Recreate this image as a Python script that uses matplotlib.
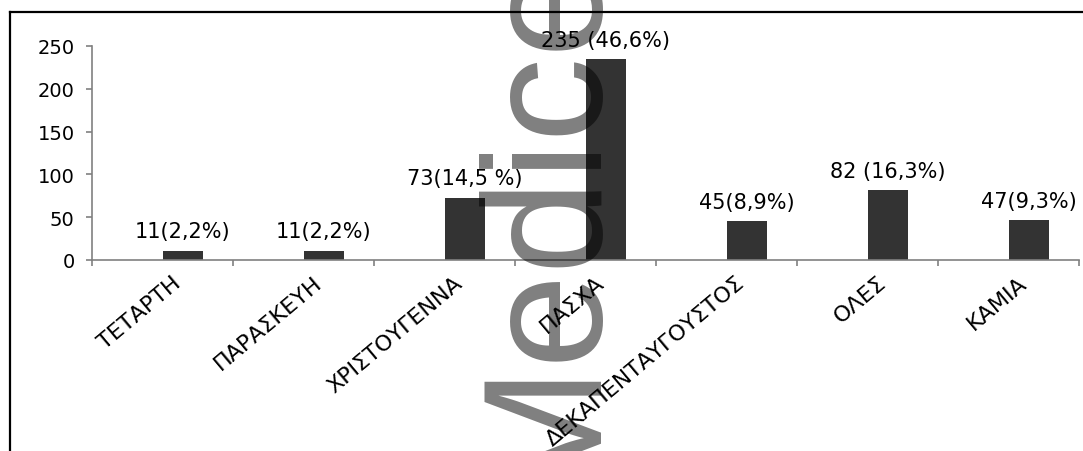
import matplotlib
matplotlib.use("Agg")
import matplotlib.pyplot as plt
from matplotlib.lines import Line2D
import numpy as np

categories = ["ΤΕΤΑΡΤΗ", "ΠΑΡΑΣΚΕΥΗ", "ΧΡΙΣΤΟΥΓΕΝΝΑ", "ΠΑΣΧΑ",
              "ΔΕΚΑΠΕΝΤΑΥΓΟΥΣΤΟΣ", "ΟΛΕΣ", "ΚΑΜΙΑ"]
values = [11, 11, 73, 235, 45, 82, 47]
value_labels = ["11(2,2%)", "11(2,2%)", "73(14,5 %)", "235 (46,6%)",
                "45(8,9%)", "82 (16,3%)", "47(9,3%)"]
yticks = [0, 50, 100, 150, 200, 250]

W, H = 1083, 452
fig = plt.figure(figsize=(W / 100, H / 100), dpi=100)
fig.patch.set_facecolor("white")

ax = fig.add_axes([92 / W, 1 - 261 / H, (1079 - 92) / W, (261 - 47) / H])

FONT = "DejaVu Sans"
grey = "#808080"
bar_w = 0.29
x = np.arange(len(categories))
centers = x + 0.5 + bar_w / 2

ax.bar(x + 0.5, values, width=bar_w, align="edge", color="#333333", zorder=2)

for cx, v, lab in zip(centers, values, value_labels):
    ax.annotate(lab, (cx, v), xytext=(0, 9.5), textcoords="offset points",
                ha="center", va="baseline", fontsize=15, family=FONT,
                color="black", zorder=5)

ax.set_xlim(0, len(categories))
ax.set_ylim(0, 250)
ax.set_yticks(yticks)
ax.set_yticklabels([str(t) for t in yticks], fontsize=14, family=FONT)
ax.set_xticks(np.arange(len(categories) + 1))
ax.set_xticklabels([])
ax.set_xticks(x + 0.565, minor=True)
ax.set_xticklabels(categories, minor=True, rotation=40, ha="right",
                   va="top", rotation_mode="anchor", fontsize=16, family=FONT)

for s in ["top", "right"]:
    ax.spines[s].set_visible(False)
for s in ["left", "bottom"]:
    ax.spines[s].set_color(grey)
    ax.spines[s].set_linewidth(1.2)

ax.tick_params(axis="y", which="major", direction="out", length=4.5,
               width=1.2, color=grey, pad=8)
ax.tick_params(axis="x", which="major", direction="out", length=4.5,
               width=1.2, color=grey)
ax.tick_params(axis="x", which="minor", length=0, pad=8.5)

# outer frame (partially visible)
fig.add_artist(Line2D([9.5 / W, 9.5 / W], [0, 1 - 13 / H], transform=fig.transFigure,
                      color="black", lw=1.6))
fig.add_artist(Line2D([9.5 / W, 1], [1 - 13 / H, 1 - 13 / H], transform=fig.transFigure,
                      color="black", lw=1.6))

# watermark
fig.text(588 / W, (H - 495) / H, "Medice", rotation=90, rotation_mode="anchor",
         ha="left", va="baseline", fontsize=122, family="Liberation Sans",
         color="black", alpha=0.5, zorder=10)

fig.savefig("out.png", dpi=100, facecolor="white")
